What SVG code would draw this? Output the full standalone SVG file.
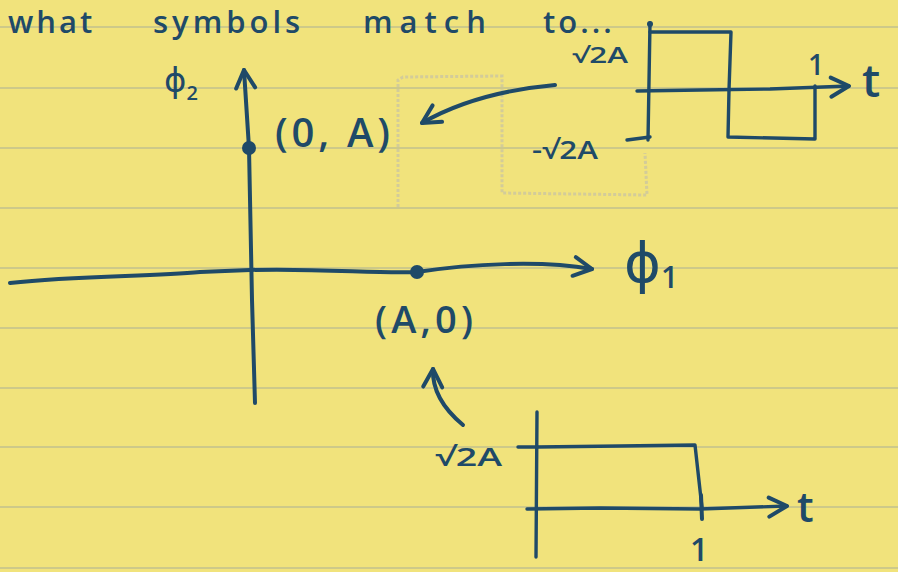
<svg xmlns="http://www.w3.org/2000/svg" width="898" height="572" viewBox="0 0 898 572">
<style>
.ink{fill:#1f4a68;font-family:"Open Sans","DejaVu Sans",sans-serif;font-weight:600}
.greek{fill:#1f4a68;font-family:"DejaVu Sans",sans-serif;font-weight:normal}
.st{fill:none;stroke:#1f4a68;stroke-width:4;stroke-linecap:round;stroke-linejoin:round}
.thin{stroke-width:3.4}
.rule{stroke:#b9bb92;stroke-width:1.5;opacity:0.85}
.ghost{fill:none;stroke:#cfc99c;stroke-width:3;stroke-dasharray:3 2;opacity:0.9}
.dot{fill:#1f4a68}
</style>
<defs>
<marker id="chev" viewBox="-24 -14 28 28" refX="0" refY="0" markerWidth="28" markerHeight="28" markerUnits="userSpaceOnUse" orient="auto" overflow="visible">
<path d="M-18,-9 L0,0 L-18,10" fill="none" stroke="#1f4a68" stroke-width="4" stroke-linecap="round" stroke-linejoin="round"/>
</marker>
</defs>
<rect width="898" height="572" fill="#f1e37c"/>
<g id="rules">
<line class="rule" x1="0" y1="27" x2="898" y2="27"/>
<line class="rule" x1="0" y1="88" x2="898" y2="88"/>
<line class="rule" x1="0" y1="148" x2="898" y2="148"/>
<line class="rule" x1="0" y1="208" x2="898" y2="208"/>
<line class="rule" x1="0" y1="268" x2="898" y2="268"/>
<line class="rule" x1="0" y1="328" x2="898" y2="328"/>
<line class="rule" x1="0" y1="388" x2="898" y2="388"/>
<line class="rule" x1="0" y1="447" x2="898" y2="447"/>
<line class="rule" x1="0" y1="507" x2="898" y2="507"/>
<line class="rule" x1="0" y1="568" x2="898" y2="568"/>
</g>
<g id="erased">
<path class="ghost" d="M398,207 L398,80 L403,77 L502,76 L502,193 L647,195 L645,153"/>
</g>
<g id="title">
<text class="ink" x="8" y="33" font-size="31" font-weight="500"><tspan x="8" letter-spacing="3">what </tspan><tspan x="153" letter-spacing="4">symbols </tspan><tspan x="363" letter-spacing="7">match </tspan><tspan x="543" letter-spacing="3">to...</tspan></text>
</g>
<g id="phi2-axis">
<path class="st" d="M255,403 L252,300 L249,148 L244,70" marker-end="url(#chev)"/>
<text class="greek" x="164" y="92" font-size="34">ϕ<tspan class="ink" font-size="20" dy="8">2</tspan></text>
</g>
<g id="phi1-axis">
<path class="st" d="M10,283 C80,275 150,277 200,272 L250,270 C320,268 380,274 417,272 C470,264 540,260 592,269" marker-end="url(#chev)"/>
<text class="greek" x="624" y="282" font-size="56">ϕ<tspan class="ink" font-size="30" dy="6">1</tspan></text>
</g>
<g id="point-0A">
<circle class="dot" cx="249" cy="148" r="7"/>
<text class="ink" x="275" y="147" font-size="40" textLength="115" lengthAdjust="spacing">(0, A)</text>
</g>
<g id="point-A0">
<circle class="dot" cx="417" cy="272" r="7"/>
<text class="ink" x="375" y="333" font-size="38" textLength="98" lengthAdjust="spacing">(A,0)</text>
</g>
<g id="wave-top">
<path class="st thin" d="M650,23 L648,140"/>
<circle class="dot" cx="650" cy="24" r="3"/>
<path class="st thin" d="M627,140 L650,137"/>
<path class="st thin" d="M650,32 L731,32 L729,90"/>
<path class="st thin" d="M637,91 L700,90 L770,89 L849,86" marker-end="url(#chev)"/>
<path class="st thin" d="M729,90 L728,137 L815,139 L815,86"/>
<text class="ink" x="808" y="75" font-size="28" font-weight="400">1</text>
<text class="ink" x="862" y="97" font-size="46">t</text>
<text class="ink" x="572" y="63" font-size="21" textLength="56" lengthAdjust="spacingAndGlyphs">√2A</text>
<text class="ink" x="532" y="159" font-size="26" textLength="66" lengthAdjust="spacingAndGlyphs">-√2A</text>
</g>
<g id="wave-bottom">
<path class="st thin" d="M537,412 L536,557"/>
<path class="st thin" d="M518,447 L537,447"/>
<path class="st thin" d="M537,447 L620,446 L695,445 L702,508"/>
<path class="st thin" d="M527,509 L600,508 L700,509 L787,506" marker-end="url(#chev)"/>
<path class="st" d="M701,495 L702,519" stroke-width="6"/>
<text class="ink" x="690" y="561" font-size="32" font-weight="400">1</text>
<text class="ink" x="797" y="522" font-size="42">t</text>
<text class="ink" x="435" y="466" font-size="26" textLength="67" lengthAdjust="spacingAndGlyphs">√2A</text>
</g>
<g id="connectors">
<path class="st" d="M555,85 C500,90 455,104 422,123" marker-end="url(#chev)"/>
<path class="st" d="M463,425 C445,410 432,392 433,369" marker-end="url(#chev)"/>
</g>
</svg>
